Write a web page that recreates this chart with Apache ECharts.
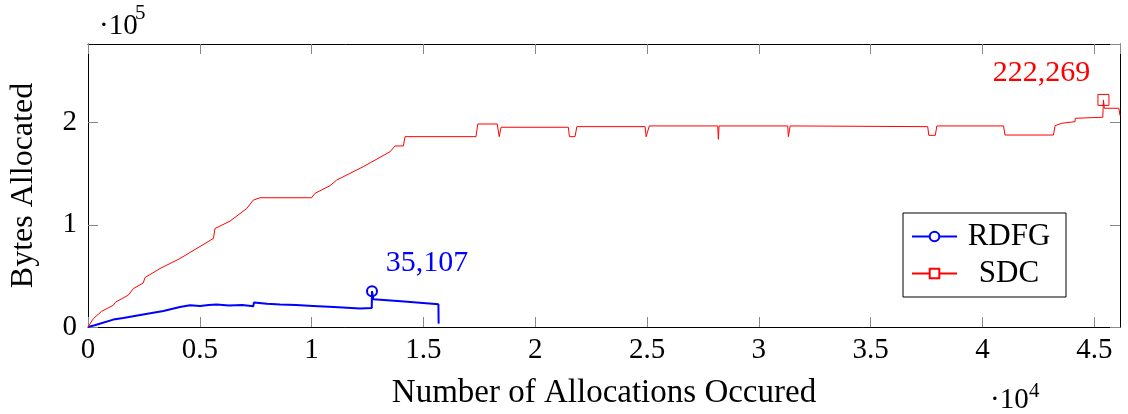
<!DOCTYPE html>
<html><head><meta charset="utf-8">
<script src="https://cdn.jsdelivr.net/npm/echarts@6/dist/echarts.min.js"></script>
<style>html,body{margin:0;padding:0;background:#fff}#c{width:1128px;height:414px}</style>
</head><body><div id="c"></div>
<script>
// ---- data ----
const xTickLabels = ['0','0.5','1','1.5','2','2.5','3','3.5','4','4.5'];
const yTickLabels = ['0','1','2'];
const seriesNames = ['RDFG','SDC'];

const rdfgX = [0, 300, 1130, 1210, 1580, 2400, 3370, 4110, 4560, 5010, 5400, 5750, 6300, 6900, 7390, 7420, 8000, 8590, 9300, 10060, 11000, 12160, 12690, 12700, 12760, 14000, 15670, 15680];
const rdfgY = [0, 1700, 7250, 5600, 8800, 12000, 15700, 19600, 21300, 20600, 21500, 22000, 21000, 21600, 20300, 23900, 22800, 22000, 21500, 20600, 19500, 18000, 18600, 35107, 27100, 25300, 22300, 3300];
const rdfgPeak = [12700, 35107];

const sdcX = [0, 240, 610, 1130, 1240, 1800, 2030, 2470, 2550, 3220, 4110, 5610, 5680, 6350, 7100, 7390, 7690, 10000, 10150, 10820, 11120, 12310, 13510, 13730, 14100, 14180, 17350, 17430, 18300, 18390, 18470, 21480, 21530, 21780, 21860, 24910, 24960, 25040, 25100, 28160, 28190, 28220, 31290, 31320, 31350, 31400, 37550, 37600, 37890, 37960, 40940, 41010, 43170, 43250, 43550, 44140, 44150, 45380, 45410, 45450, 46100, 46150];
const sdcY = [0, 8200, 15400, 21300, 24500, 31100, 37600, 43100, 48400, 57200, 67000, 86700, 96400, 103600, 116000, 124200, 126500, 126500, 130800, 138300, 143800, 156900, 171600, 177200, 177200, 186300, 186300, 198700, 198700, 186300, 195500, 195500, 186300, 186300, 196100, 196100, 186300, 186300, 196800, 196800, 183700, 196800, 196800, 186300, 186300, 196800, 196100, 187600, 187600, 196800, 196800, 187900, 187900, 197100, 199400, 201000, 204300, 205300, 222269, 214100, 214100, 207000];
const sdcPeak = [45410, 222269];

const xMax = 46150, yMax = 277000;

// ---- chart ----
const FONT = 'Liberation Serif';
const pair = (xs, ys) => xs.map((x, i) => [x, ys[i]]);
const fmt = v => v.toLocaleString('en-US');

const chart = echarts.init(document.getElementById('c'), null, {renderer: 'canvas'});
const tick = {show: true, inside: true, length: 10, lineStyle: {color: '#888', width: 1}};
const line = {show: true, onZero: false, lineStyle: {color: '#000', width: 1}};

chart.setOption({
  animation: false,
  backgroundColor: '#fff',
  textStyle: {fontFamily: FONT},
  grid: {left: 88, right: 8, top: 44, bottom: 87, containLabel: false, outerBoundsMode: 'none'},
  legend: {
    orient: 'vertical', left: 903, top: 213,
    padding: [8, 10, 8, 8], itemGap: 6, itemWidth: 45, itemHeight: 12,
    borderColor: '#000', borderWidth: 1, backgroundColor: '#fff',
    data: seriesNames,
    formatter: n => '{a|' + n + '}',
    textStyle: {fontFamily: FONT, fontSize: 31, color: '#000',
      rich: {a: {fontFamily: FONT, fontSize: 31, color: '#000', width: 94, align: 'center', lineHeight: 31}}}
  },
  xAxis: [{
    type: 'value', min: 0, max: xMax, interval: 5000, position: 'bottom',
    axisLine: line, axisTick: tick, splitLine: {show: false},
    axisLabel: {fontSize: 29, color: '#000', fontFamily: FONT, margin: 9, showMaxLabel: false,
      formatter: v => xTickLabels[Math.round(v / 5000)] ?? ''},
    name: 'Number of Allocations Occured', nameLocation: 'middle', nameGap: 50,
    nameTextStyle: {fontSize: 33, color: '#000', fontFamily: FONT}
  }, {
    type: 'value', min: 0, max: xMax, interval: 5000, position: 'top',
    axisLine: line, axisTick: tick, splitLine: {show: false}, axisLabel: {show: false}
  }],
  yAxis: [{
    type: 'value', min: 0, max: yMax, interval: 100000, position: 'left',
    axisLine: line, axisTick: tick, splitLine: {show: false},
    axisLabel: {fontSize: 29, color: '#000', fontFamily: FONT, margin: 11, showMaxLabel: false,
      formatter: v => yTickLabels[Math.round(v / 100000)] ?? ''},
    name: 'Bytes Allocated', nameLocation: 'middle', nameGap: 48,
    nameTextStyle: {fontSize: 32, color: '#000', fontFamily: FONT}
  }, {
    type: 'value', min: 0, max: yMax, interval: 100000, position: 'right',
    axisLine: line, axisTick: tick, splitLine: {show: false}, axisLabel: {show: false}
  }],
  graphic: [
    {type: 'text', left: 99, top: 12, style: {text: '·10', font: '29px ' + FONT, fill: '#000'}},
    {type: 'text', left: 135, top: 3, style: {text: '5', font: '21px ' + FONT, fill: '#000'}},
    {type: 'text', left: 990, top: 386, style: {text: '·10', font: '29px ' + FONT, fill: '#000'}},
    {type: 'text', left: 1029, top: 381, style: {text: '4', font: '21px ' + FONT, fill: '#000'}}
  ],
  series: [{
    name: 'RDFG', type: 'line', data: pair(rdfgX, rdfgY),
    showSymbol: false, symbol: 'emptyCircle', symbolSize: 10,
    color: '#0000ff',
    lineStyle: {color: '#0000ff', width: 2},
    itemStyle: {color: '#0000ff', borderColor: '#0000ff', borderWidth: 2},
    markPoint: {
      symbol: 'circle', symbolSize: 10,
      itemStyle: {color: 'rgba(255,255,255,0)', borderColor: '#0000ff', borderWidth: 2},
      data: [{coord: rdfgPeak, value: rdfgPeak[1]}],
      label: {show: true, position: 'inside', offset: [55, -28],
        formatter: p => fmt(p.value), color: '#0000ff', fontSize: 30, fontFamily: FONT}
    }
  }, {
    name: 'SDC', type: 'line', data: pair(sdcX, sdcY),
    showSymbol: false, symbol: 'emptyRect', symbolSize: 10,
    color: '#ff0000',
    lineStyle: {color: '#ff0000', width: 1},
    itemStyle: {color: '#ff0000', borderColor: '#ff0000', borderWidth: 1},
    markPoint: {
      symbol: 'rect', symbolSize: 11,
      itemStyle: {color: 'rgba(255,255,255,0)', borderColor: '#ff0000', borderWidth: 1},
      data: [{coord: sdcPeak, value: sdcPeak[1]}],
      label: {show: true, position: 'inside', offset: [-62, -27],
        formatter: p => fmt(p.value), color: '#ff0000', fontSize: 30, fontFamily: FONT}
    }
  }]
});
</script>
</body></html>
